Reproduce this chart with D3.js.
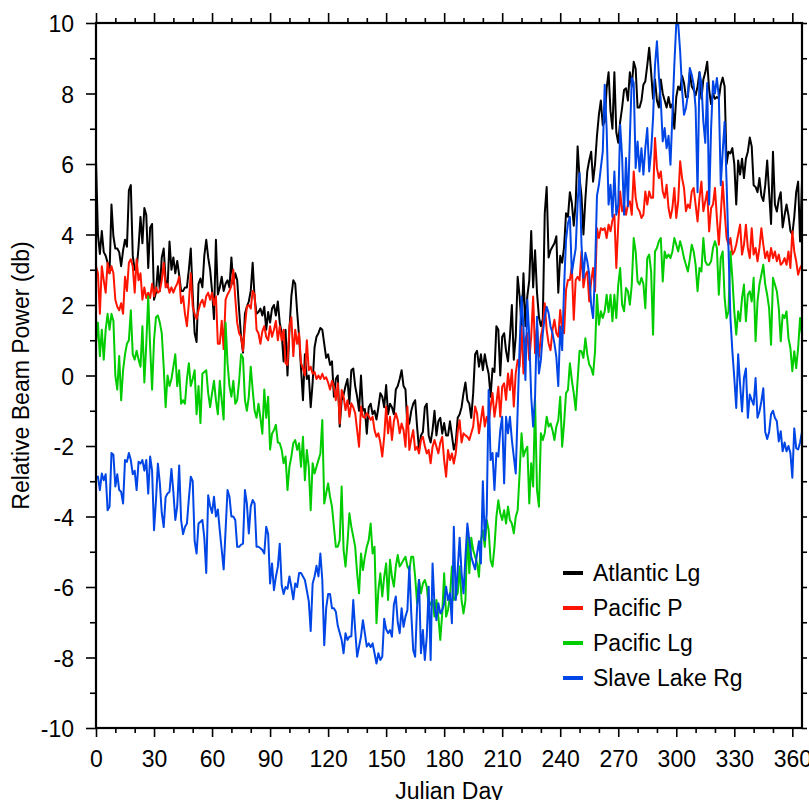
<!DOCTYPE html>
<html><head><meta charset="utf-8">
<script src="https://cdn.jsdelivr.net/npm/d3@7"></script>
<style>body{margin:0;background:#fff} svg text{font-family:"Liberation Sans",Arial,Helvetica,sans-serif;fill:#000}</style>
</head><body><svg id="chart" width="809" height="800"></svg>
<script>
// Julian day 0..365, one value per day
const atlanticLg = [
6.1,4.0,3.45,4.1,3.5,3.4,3.2,2.9,4.85,3.95,
3.6,3.6,3.5,3.1,3.55,3.85,3.65,5.25,5.4,3.4,
3.0,3.0,3.65,4.5,3.75,4.75,4.55,3.05,4.2,4.3,
2.15,2.35,3.1,2.4,3.35,3.6,2.7,2.5,3.8,3.0,
3.35,2.9,3.25,2.85,2.4,2.4,2.5,2.5,3.0,3.6,
2.3,1.2,0.95,2.6,2.75,2.5,3.4,3.85,3.35,3.0,
2.4,1.6,3.85,2.3,2.5,2.8,2.4,2.6,2.7,2.5,
3.35,2.6,2.9,2.7,1.85,1.1,0.65,1.75,1.95,2.1,
2.4,3.2,2.2,1.75,1.8,1.9,1.7,1.95,1.3,1.8,
1.5,1.9,2.0,1.7,2.1,1.5,1.2,0.4,1.3,0.0,
1.3,2.25,2.7,2.6,1.8,1.1,0.2,-0.7,0.6,-0.1,
0.0,-0.9,-0.2,0.8,1.1,1.2,1.35,1.3,0.9,0.5,
0.6,0.3,0.4,-0.6,-0.1,0.0,-1.45,-0.7,-0.55,-0.3,
-0.1,-0.8,0.15,0.2,-0.3,-0.6,-1.0,0.0,-1.0,-0.95,
-1.65,-0.9,-0.8,-1.1,-1.0,-1.25,-0.9,-0.5,-0.6,-0.9,
-0.27,-1.1,-0.8,-0.9,-1.1,-0.4,-0.3,-0.1,0.15,-0.3,
-0.4,-1.45,-1.35,-1.0,-0.8,-0.7,-1.45,-2.1,-1.7,-1.6,
-0.9,-0.8,-1.7,-1.9,-1.55,-1.0,-1.7,-1.3,-1.2,-1.65,
-1.35,-1.7,-1.7,-1.3,-1.7,-2.1,-1.9,-1.2,-1.1,-0.9,
-0.5,-0.2,-0.7,-0.8,-1.2,-0.5,0.6,0.7,0.25,0.6,
0.15,0.6,0.3,0.05,-0.6,0.2,0.1,1.4,1.3,0.0,
1.1,1.2,0.7,0.4,1.1,2.0,0.45,1.1,2.8,2.25,
1.4,2.9,1.4,2.25,2.7,4.1,2.5,3.55,2.35,1.65,
1.4,1.6,4.6,5.35,3.35,3.55,3.65,3.75,3.95,2.35,
3.4,3.2,3.65,4.6,4.5,5.2,4.9,4.25,4.9,6.5,
5.6,5.1,4.0,5.0,5.8,6.1,6.35,5.5,6.0,6.8,
7.4,7.8,7.1,7.2,8.15,8.6,7.5,7.0,8.6,6.9,
6.6,7.2,7.6,8.1,8.15,7.8,8.6,8.2,8.9,8.7,
7.6,7.6,7.8,8.25,8.35,8.8,9.3,8.6,7.85,8.4,
7.8,7.6,8.4,8.0,7.8,7.6,7.9,7.6,7.7,7.0,
7.9,8.2,8.1,8.5,8.3,7.9,7.9,8.6,8.2,8.1,
7.95,8.2,8.6,7.85,8.4,8.6,8.9,8.1,7.7,8.0,
7.85,7.9,7.85,8.25,8.45,8.2,6.0,6.35,6.3,6.45,
6.0,4.85,6.1,5.7,6.15,5.6,6.15,6.35,6.75,6.5,
5.4,5.35,5.2,5.6,5.1,4.95,5.4,6.1,5.2,4.3,
6.35,4.85,4.65,5.0,5.2,4.2,4.55,4.85,4.55,4.1,
4.0,4.5,5.2,5.5,3.8,5.5];

const pacificP = [
3.1,2.9,1.75,3.1,2.7,2.35,3.2,2.9,3.1,2.9,
2.15,1.95,1.85,2.05,1.75,2.8,2.4,3.2,3.3,3.1,
2.35,3.3,2.7,2.9,2.15,2.5,2.2,2.35,2.2,2.6,
2.25,2.5,2.35,2.4,2.7,3.2,2.5,2.6,2.35,2.5,
2.35,2.5,2.6,2.8,2.05,2.25,1.75,1.4,2.05,2.9,
1.95,1.75,1.6,1.85,2.05,2.15,1.95,2.25,2.35,2.15,
2.35,2.0,2.25,0.9,0.9,1.55,0.75,2.15,2.3,2.4,
2.55,3.0,2.2,1.5,1.2,1.1,0.7,1.4,1.95,2.0,
1.9,2.4,2.3,1.3,1.2,0.9,1.25,1.4,1.1,1.0,
1.4,1.1,1.3,1.55,1.0,1.4,1.0,1.3,0.35,0.3,
1.4,1.65,0.55,1.3,0.9,1.2,0.35,0.2,0.0,1.0,
0.15,0.25,0.05,0.1,-0.1,0.0,-0.1,0.05,-0.1,-0.05,
-0.2,-0.4,-0.15,-0.32,-0.7,-0.22,-1.36,-0.41,-0.6,-0.98,
-0.7,-1.17,-0.79,-0.9,-1.07,-1.55,-2.02,-0.88,-1.17,-1.2,
-1.07,-1.15,-1.26,-1.17,-1.55,-1.74,-1.64,-1.9,-2.3,-1.74,
-0.88,-1.64,-1.17,-1.83,-1.3,-1.07,-1.26,-1.64,-1.36,-1.55,
-2.02,-0.88,-2.11,-1.8,-1.55,-2.11,-2.02,-2.21,-1.83,-1.74,
-2.0,-2.21,-2.11,-2.49,-2.02,-1.83,-2.02,-2.21,-1.9,-1.74,
-2.4,-2.87,-2.11,-2.4,-2.21,-2.5,-2.2,-1.6,-1.27,-1.9,
-1.64,-1.7,-1.74,-1.83,-1.64,-1.45,-0.88,-1.07,-1.64,-1.27,
-0.88,-1.45,-1.17,-1.36,-0.88,-0.5,-1.17,-0.79,-0.32,-1.17,
-0.32,-0.22,-0.69,0.06,-0.41,0.16,-0.88,0.06,0.44,0.25,
1.39,0.06,1.0,1.2,0.44,1.1,2.24,0.63,1.39,0.53,
1.1,1.39,2.05,1.29,0.91,0.72,1.29,1.58,1.2,1.1,
1.86,1.29,1.2,2.43,2.71,2.71,3.09,1.58,2.71,2.8,
2.7,3.52,2.5,2.86,2.95,2.1,2.67,3.05,2.39,4.18,
3.9,4.18,4.13,4.18,3.9,4.28,4.09,4.4,4.56,3.05,
4.28,5.22,4.66,4.85,4.56,4.85,4.94,4.56,5.79,5.04,
4.75,4.66,4.47,4.56,5.22,4.85,5.22,5.04,5.04,6.74,
5.89,5.6,5.79,5.22,5.04,5.41,4.75,4.47,4.75,5.32,
4.47,4.94,6.08,5.6,5.32,4.66,4.85,4.75,5.22,5.32,
4.85,4.37,5.04,5.5,4.66,4.94,5.22,4.09,4.75,4.85,
5.32,4.47,3.71,4.56,5.5,4.66,3.9,3.71,3.9,3.43,
3.52,3.71,4.0,4.28,3.43,3.71,4.28,3.62,3.33,4.18,
3.43,3.62,3.24,3.62,4.18,3.71,3.33,3.52,3.24,3.62,
3.33,3.52,3.24,3.43,3.14,3.2,3.33,3.14,3.52,3.05,
4.09,3.52,3.24,2.86,3.05,3.14];

const pacificLg = [
0.9,1.5,0.55,1.3,0.45,1.3,1.75,1.3,1.75,1.55,
0.0,-0.4,0.55,-0.7,0.15,0.6,0.9,1.0,1.85,0.6,
0.45,0.7,0.45,0.25,1.4,-0.2,0.9,2.25,0.8,-0.4,
1.0,1.65,1.7,1.5,1.2,0.25,-0.9,0.0,-0.3,-0.1,
0.25,0.6,-0.3,0.15,-0.8,-0.7,-0.8,-0.1,0.35,-0.3,
-0.1,0.15,-1.1,-0.3,-1.35,0.05,0.1,0.15,-0.5,-0.9,
-0.5,-0.15,-0.7,-1.1,-0.15,-0.7,-1.25,1.5,0.35,-0.3,
-0.6,-0.15,-0.8,-0.7,-0.15,0.6,0.5,-0.7,-1.0,-0.6,
0.25,-0.4,-1.0,-1.2,-0.8,-1.2,-1.65,-0.4,-1.2,-0.6,
-2.1,-1.65,-1.55,-1.4,-1.9,-1.92,-2.11,-2.49,-2.3,-3.25,
-2.59,-2.3,-1.92,-1.83,-2.11,-1.92,-2.59,-1.74,-2.97,-2.11,
-2.59,-3.82,-2.49,-2.78,-2.59,-2.4,-2.21,-1.26,-3.63,-3.34,
-3.06,-3.44,-3.72,-4.29,-4.86,-4.86,-4.67,-3.15,-4.95,-5.42,
-4.76,-3.91,-4.29,-4.57,-4.86,-5.61,-6.18,-5.05,-5.52,-5.14,
-4.86,-4.67,-4.2,-5.05,-4.86,-7.03,-6.09,-5.61,-6.27,-5.71,
-5.33,-6.37,-5.23,-5.71,-5.99,-5.42,-5.09,-5.42,-5.33,-5.23,
-5.14,-5.42,-5.52,-5.14,-5.14,-5.71,-6.46,-5.8,-6.18,-5.9,
-5.8,-5.99,-6.56,-6.46,-6.37,-6.84,-6.37,-6.84,-7.5,-6.75,
-5.61,-6.84,-6.65,-6.27,-5.42,-6.37,-6.27,-6.18,-5.42,-6.37,
-6.75,-6.37,-4.39,-5.61,-4.6,-4.95,-5.14,-5.33,-5.71,-4.67,
-4.39,-4.86,-4.1,-4.39,-5.24,-5.42,-4.86,-4.01,-3.54,-3.91,
-4.1,-3.82,-4.2,-3.72,-4.1,-4.2,-4.48,-4.01,-3.82,-2.78,
-1.64,-2.3,-2.12,-2.02,-3.63,-2.49,-3.15,-0.69,-3.25,-3.72,
-1.64,-1.83,-1.64,-1.17,-1.45,-1.36,-1.55,-1.83,-1.45,-1.27,
-0.6,-2.02,-1.36,-0.5,-0.41,0.35,-0.13,-0.5,-0.98,-0.13,
0.7,0.69,0.5,1.06,0.6,0.31,0.21,0.02,0.69,2.29,
1.44,1.82,1.63,1.82,2.29,1.8,2.29,1.54,2.29,1.63,
2.58,3.05,2.01,1.82,2.48,2.39,2.01,2.58,3.9,3.52,
2.67,2.58,2.77,2.6,1.91,3.33,3.43,2.95,1.16,3.52,
3.62,3.81,3.9,2.67,3.52,3.33,3.43,3.33,3.52,3.9,
3.71,3.52,3.81,3.6,3.33,3.14,2.95,3.3,3.71,3.52,
3.14,2.39,3.05,2.95,3.9,3.24,3.14,3.14,3.24,3.62,
3.81,3.62,2.29,3.33,3.52,2.2,1.63,1.82,3.52,2.77,
1.82,1.16,1.82,1.54,2.2,2.58,1.54,2.29,2.39,2.1,
2.77,0.97,2.1,2.58,2.86,3.14,2.58,2.29,1.91,0.87,
2.77,2.58,2.39,1.91,0.97,1.72,1.63,1.82,1.06,0.78,
0.12,0.69,0.21,0.78,1.63,1.16];

const slaveLakeRg = [
-2.9,-2.87,-3.25,-2.78,-2.97,-2.8,-3.82,-3.72,-2.2,-2.25,
-3.15,-2.8,-3.25,-3.3,-3.63,-2.4,-2.45,-2.2,-2.4,-2.8,
-2.7,-3.25,-2.45,-2.5,-2.4,-2.7,-2.4,-3.35,-2.3,-2.7,
-4.39,-3.55,-2.5,-3.05,-3.9,-4.3,-3.45,-3.35,-3.3,-2.65,
-3.3,-4.1,-3.7,-2.55,-4.1,-4.5,-4.3,-4.2,-3.5,-2.87,
-3.0,-4.7,-5.05,-4.2,-4.15,-4.1,-4.6,-5.6,-3.4,-3.7,
-3.9,-3.44,-4.0,-3.8,-4.4,-4.95,-5.5,-4.38,-3.25,-3.44,
-4.0,-4.0,-4.1,-4.86,-4.86,-4.8,-4.77,-3.25,-3.63,-4.48,
-3.72,-3.53,-3.63,-4.86,-4.86,-4.9,-4.95,-5.05,-4.29,-4.5,
-5.9,-5.33,-6.09,-5.71,-5.43,-4.77,-5.95,-6.2,-6.0,-6.05,
-5.7,-6.0,-6.35,-5.9,-6.0,-5.6,-5.6,-5.7,-5.8,-6.1,
-6.4,-7.25,-5.9,-5.7,-5.4,-5.7,-5.05,-5.8,-7.65,-6.6,
-6.2,-6.2,-6.6,-6.6,-6.7,-7.1,-7.3,-7.5,-7.88,-7.31,
-7.5,-7.41,-7.4,-6.37,-7.22,-7.98,-7.69,-7.4,-6.94,-7.31,
-7.69,-7.6,-7.7,-7.6,-7.88,-8.17,-7.88,-8.07,-7.98,-6.9,
-7.2,-7.31,-7.22,-7.41,-6.5,-6.27,-7.0,-7.31,-6.6,-7.13,
-6.84,-6.65,-5.42,-6.75,-7.79,-7.98,-6.56,-5.8,-7.88,-7.22,
-8.07,-7.41,-5.99,-8.07,-5.33,-6.5,-6.94,-6.46,-6.75,-6.65,
-6.46,-5.99,-6.37,-6.18,-7.03,-4.29,-6.37,-5.5,-4.6,-5.61,
-6.18,-5.14,-4.2,-4.67,-5.14,-5.33,-5.5,-5.05,-4.7,-5.33,
-3.0,-4.67,-3.91,-0.41,-2.4,-2.2,-3.25,-2.2,-2.3,-1.55,
-1.17,-3.06,-1.17,-1.64,-1.17,-1.83,-2.3,-2.78,-0.98,0.82,
2.24,1.39,-0.13,2.14,1.1,-0.6,-1.45,-0.6,1.67,0.06,
0.44,1.2,1.67,1.95,1.77,1.39,1.2,0.91,0.53,-0.3,
1.39,0.72,2.52,3.84,4.32,4.5,2.9,3.27,3.6,4.9,
5.74,3.71,2.77,3.48,3.24,2.86,2.0,1.63,2.95,5.1,
5.41,5.89,6.36,8.25,7.0,4.85,5.41,4.5,5.79,4.56,
4.85,7.11,6.2,4.56,6.17,4.8,6.74,8.44,8.3,5.89,
6.64,5.79,6.45,5.7,6.45,7.02,5.79,6.36,7.3,8.8,
9.48,8.5,7.78,6.64,7.02,6.45,6.8,5.98,7.4,8.82,
9.98,9.98,9.2,8.1,7.4,7.59,7.97,8.72,8.53,8.25,
7.59,5.2,8.6,8.3,7.2,6.6,8.3,4.85,7.0,8.35,
8.0,8.44,7.9,5.4,6.35,7.2,5.5,3.6,1.63,0.69,
-0.07,-0.92,0.6,-0.26,-1.02,-0.07,0.2,-1.2,-0.54,-0.7,
-0.83,-0.07,-1.2,-1.02,-0.73,-0.36,-1.6,-1.8,-1.6,-1.1,
-1.0,-1.2,-1.3,-1.87,-1.58,-2.15,-1.9,-2.15,-2.0,-2.2,
-2.9,-1.5,-2.06,-2.1,-1.9,-1.6];

const seriesNames = ["Atlantic Lg", "Pacific P", "Pacific Lg", "Slave Lake Rg"];
const seriesColors = ["#000000", "#ff1400", "#00cc00", "#0046e6"];
const xMajorTicks = [0, 30, 60, 90, 120, 150, 180, 210, 240, 270, 300, 330, 360];
const yMajorTicks = [-10, -8, -6, -4, -2, 0, 2, 4, 6, 8, 10];
const xTitle = "Julian Day";
const yTitle = "Relative Beam Power (db)";

const svg = d3.select("#chart");
const L = 96, R = 802, T = 23, B = 728;
const x = d3.scaleLinear().domain([0, 365]).range([L, R]);
const y = d3.scaleLinear().domain([-10, 10]).range([B, T]);

const xMinor = d3.range(0, 366, 10).filter(d => d % 30 !== 0);
const yMinor = d3.range(-10, 11, 1).filter(d => d % 2 !== 0);
const yAll = d3.range(-10, 11, 1);

function styleAxis(g) {
  g.select(".domain").remove();
  g.selectAll(".tick line").attr("stroke", "#000").attr("stroke-width", 1.6);
  g.selectAll(".tick text").attr("font-size", 23).attr("fill", "#000")
    .attr("font-family", '"Liberation Sans", Arial, sans-serif');
}

// bottom axis
svg.append("g").attr("transform", `translate(0,${B})`)
  .call(d3.axisBottom(x).tickValues(xMajorTicks).tickSize(9).tickPadding(13.5).tickFormat(d => String(d)))
  .call(styleAxis);
svg.append("g").attr("transform", `translate(0,${B})`)
  .call(d3.axisBottom(x).tickValues(xMinor).tickSize(5).tickFormat(""))
  .call(styleAxis);
// top axis
svg.append("g").attr("transform", `translate(0,${T})`)
  .call(d3.axisTop(x).tickValues(xMajorTicks).tickSize(10).tickFormat(""))
  .call(styleAxis);
svg.append("g").attr("transform", `translate(0,${T})`)
  .call(d3.axisTop(x).tickValues(xMinor).tickSize(5).tickFormat(""))
  .call(styleAxis);
// left axis
svg.append("g").attr("transform", `translate(${L},0)`)
  .call(d3.axisLeft(y).tickValues(yMajorTicks).tickSize(10).tickPadding(12).tickFormat(d => String(d)))
  .call(styleAxis)
  .call(g => g.selectAll(".tick text").attr("dy", "0.38em"));
svg.append("g").attr("transform", `translate(${L},0)`)
  .call(d3.axisLeft(y).tickValues(yMinor).tickSize(6).tickFormat(""))
  .call(styleAxis);
// right axis
svg.append("g").attr("transform", `translate(${R},0)`)
  .call(d3.axisRight(y).tickValues(yAll).tickSize(5).tickFormat(""))
  .call(styleAxis);

// clip
svg.append("clipPath").attr("id", "plotclip")
  .append("rect").attr("x", L).attr("y", T).attr("width", R - L).attr("height", B - T);

const series = [atlanticLg, pacificP, pacificLg, slaveLakeRg];
const line = d3.line().x((d, i) => x(i)).y(d => y(d));
const plot = svg.append("g").attr("clip-path", "url(#plotclip)");
series.forEach((s, k) => {
  plot.append("path").datum(s)
    .attr("fill", "none").attr("stroke", seriesColors[k])
    .attr("stroke-width", 2).attr("stroke-linejoin", "round")
    .attr("d", line);
});

// frame
svg.append("rect").attr("x", L).attr("y", T).attr("width", R - L).attr("height", B - T)
  .attr("fill", "none").attr("stroke", "#000").attr("stroke-width", 2.2);

// legend
const leg = svg.append("g");
seriesNames.forEach((n, k) => {
  const ly = 573 + 35 * k;
  leg.append("line").attr("x1", 563).attr("x2", 583).attr("y1", ly).attr("y2", ly)
    .attr("stroke", seriesColors[k]).attr("stroke-width", 4);
  leg.append("text").attr("x", 593).attr("y", ly + 8.3).attr("font-size", 23).text(n);
});

// titles
svg.append("text").attr("x", (L + R) / 2).attr("y", 799).attr("text-anchor", "middle")
  .attr("font-size", 23).text(xTitle);
svg.append("text").attr("transform", `translate(29,${(T + B) / 2}) rotate(-90)`)
  .attr("text-anchor", "middle").attr("font-size", 23).text(yTitle);
</script></body></html>
